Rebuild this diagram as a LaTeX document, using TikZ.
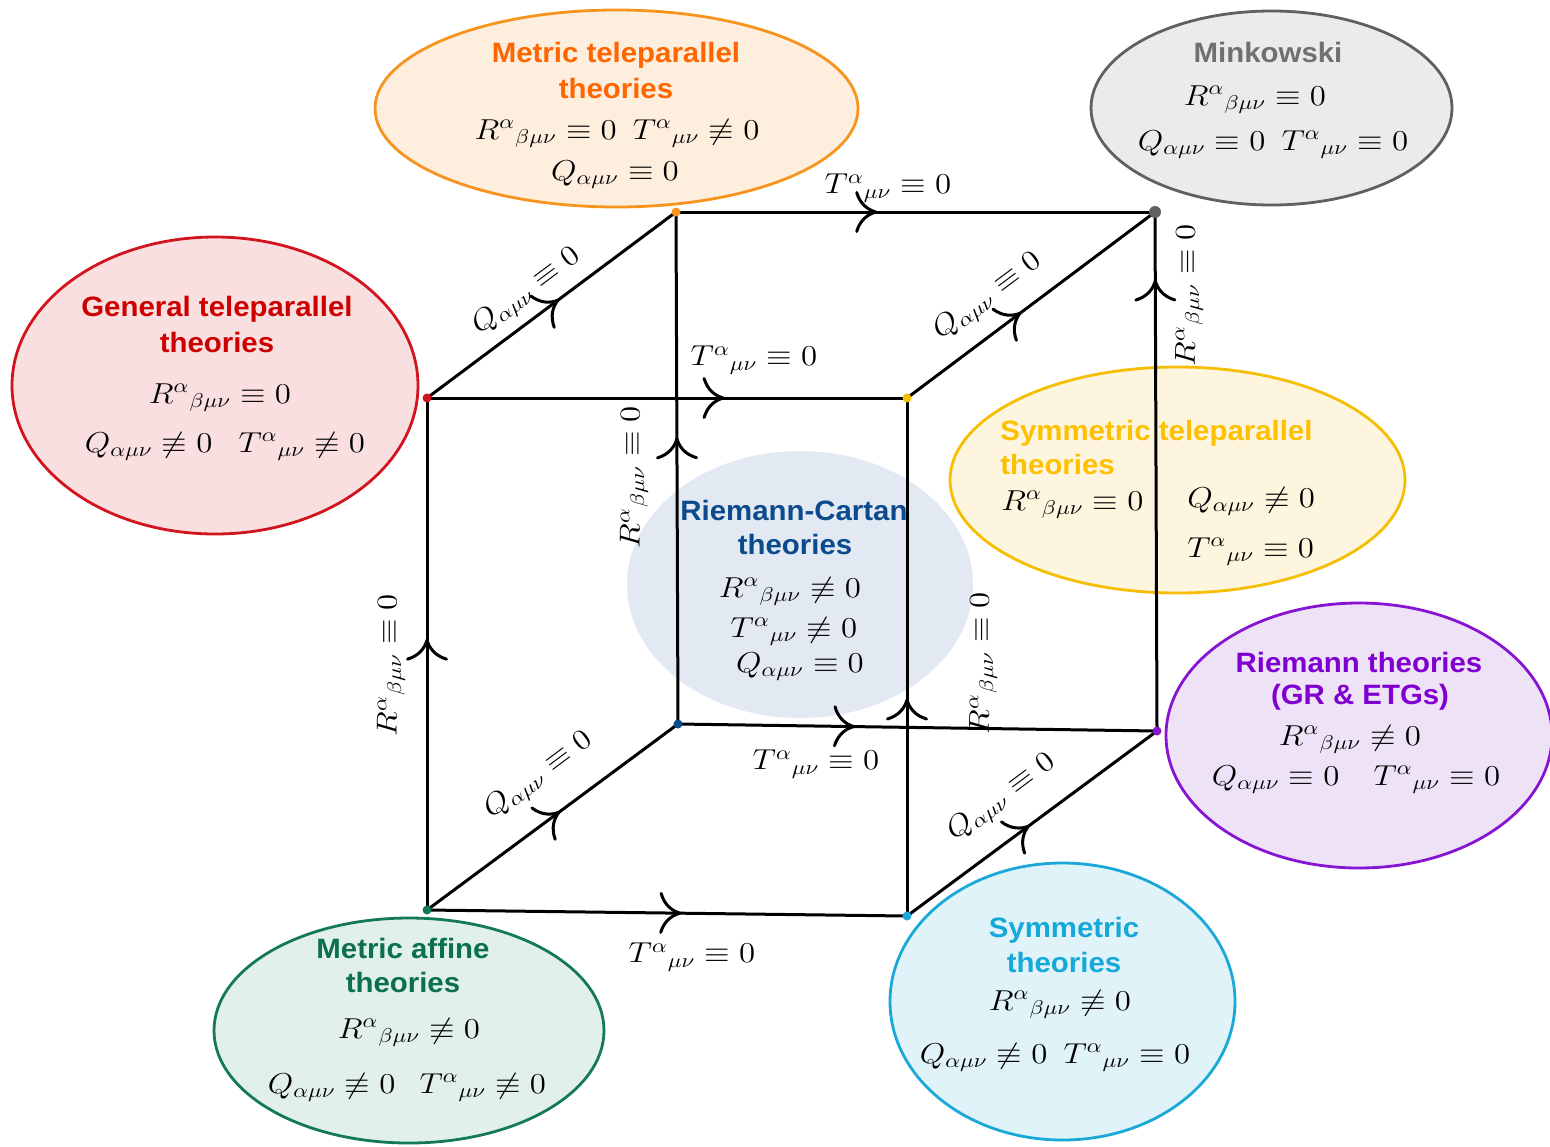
\documentclass[tikz,border=0pt]{standalone}
\usepackage{fontspec}
\newfontfamily\tf[FakeStretch=1.05]{Liberation Sans}
\usetikzlibrary{arrows.meta,decorations.markings,shapes.geometric}
\definecolor{orT}{RGB}{255,102,0}\definecolor{orS}{RGB}{247,148,29}\definecolor{orF}{RGB}{253,238,222}
\definecolor{grT}{RGB}{112,112,112}\definecolor{grS}{RGB}{96,96,96}\definecolor{grF}{RGB}{235,235,235}
\definecolor{reT}{RGB}{204,0,0}\definecolor{reS}{RGB}{210,20,30}\definecolor{reF}{RGB}{249,223,223}
\definecolor{yeT}{RGB}{255,192,0}\definecolor{yeS}{RGB}{245,190,0}\definecolor{yeF}{RGB}{254,245,222}
\definecolor{blT}{RGB}{11,74,140}\definecolor{blF}{RGB}{226,233,242}
\definecolor{puT}{RGB}{128,0,210}\definecolor{puS}{RGB}{135,20,210}\definecolor{puF}{RGB}{238,226,246}
\definecolor{cyT}{RGB}{22,168,216}\definecolor{cyS}{RGB}{26,168,216}\definecolor{cyF}{RGB}{224,243,249}
\definecolor{gnT}{RGB}{10,112,80}\definecolor{gnS}{RGB}{20,120,90}\definecolor{gnF}{RGB}{226,240,236}
\newcommand\m[1]{\scalebox{1.14}[1]{$#1$}}
\newcommand\Rz{R^{\alpha}{}_{\beta\mu\nu}}
\newcommand\Tz{T^{\alpha}{}_{\mu\nu}}
\newcommand\Qz{Q_{\alpha\mu\nu}}
\begin{document}
\begin{tikzpicture}[x=0.5pt,y=-0.5pt,
  ell/.style={ellipse, draw, line width=1.4pt, inner sep=0pt},
  edge/.style={line width=1.5pt, black},
  midarr/.style={postaction={decorate},decoration={markings,mark=at position #1 with {\arrow{Computer Modern Rightarrow[length=11pt,width=21pt,line width=1.5pt]}}}},
  ttl/.style={font={\tf\bfseries\fontsize{14}{16}\selectfont}, anchor=base, inner sep=0pt},
  mth/.style={font={\fontsize{14.4}{17}\selectfont}, anchor=base, inner sep=0pt},
  lbl/.style={font={\fontsize{14.4}{17}\selectfont}, inner sep=0pt},
  vdot/.style={circle, inner sep=0pt, minimum size=4.5pt}
]
\useasboundingbox[fill=white] (0,0) rectangle (1550,1146);
% ellipses
\node[ell, draw=orS, fill=orF, minimum width=241.5pt, minimum height=98.5pt] (eMT) at (616.5,108.5) {};
\node[ell, draw=grS, fill=grF, minimum width=180.5pt, minimum height=97pt] (eMK) at (1271.5,108) {};
\node[ell, draw=reS, fill=reF, minimum width=203pt, minimum height=148.5pt] (eGT) at (215,385.5) {};
\node[ell, draw=yeS, fill=yeF, minimum width=227.5pt, minimum height=113pt] (eST) at (1177.5,480) {};
\node[ellipse, draw=none, fill=blF, inner sep=0pt, minimum width=173pt, minimum height=133.5pt] (eRC) at (800,584.5) {};
\node[ell, draw=puS, fill=puF, minimum width=193pt, minimum height=132.5pt] (eRM) at (1359,735.5) {};
\node[ell, draw=cyS, fill=cyF, minimum width=172.5pt, minimum height=138.5pt] (eSY) at (1062.5,1001.5) {};
\node[ell, draw=gnS, fill=gnF, minimum width=195pt, minimum height=112.5pt] (eMA) at (409,1030.5) {};
% cube vertices
\coordinate (A) at (427,398);
\coordinate (B) at (907,398);
\coordinate (C) at (676,212);
\coordinate (D) at (1155,212);
\coordinate (E) at (427,910);
\coordinate (F) at (907,916);
\coordinate (G) at (678,724);
\coordinate (H) at (1157,731);
% edges
\draw[edge, midarr=0.53] (E) -- (F);
\draw[edge, midarr=0.53] (E) -- (A);
\draw[edge, midarr=0.53] (E) -- (G);
\draw[edge, midarr=0.37] (G) -- (H);
\draw[edge, midarr=0.56] (G) -- (C);
\draw[edge, midarr=0.62] (A) -- (B);
\draw[edge, midarr=0.53] (A) -- (C);
\draw[edge, midarr=0.42] (C) -- (D);
\draw[edge, midarr=0.42] (F) -- (B);
\draw[edge, midarr=0.49] (F) -- (H);
\draw[edge, midarr=0.87] (H) -- (D);
\draw[edge, midarr=0.46] (B) -- (D);
% dots
\node[vdot, fill=reS] (dA) at (A) {};
\node[vdot, fill=yeS] (dB) at (B) {};
\node[vdot, fill=orS] (dC) at (C) {};
\node[vdot, fill=grS, minimum size=6pt] (dD) at (D) {};
\node[vdot, fill=gnS] (dE) at (E) {};
\node[vdot, fill=cyS] (dF) at (F) {};
\node[vdot, fill=blT] (dG) at (G) {};
\node[vdot, fill=puS] (dH) at (H) {};
% edge labels
\node[lbl] (tCD) at (888,188) {\m{\Tz\equiv 0}};
\node[lbl] (tAB) at (754,360) {\m{\Tz\equiv 0}};
\node[lbl] (tGH) at (816,764) {\m{\Tz\equiv 0}};
\node[lbl] (tEF) at (692,957) {\m{\Tz\equiv 0}};
\node[lbl, rotate=90] (rEA) at (391,665) {\m{\Rz\equiv 0}};
\node[lbl, rotate=90] (rGC) at (634,477) {\m{\Rz\equiv 0}};
\node[lbl, rotate=90] (rFB) at (983,663) {\m{\Rz\equiv 0}};
\node[lbl, rotate=90] (rHD) at (1189,295) {\m{\Rz\equiv 0}};
\node[lbl, rotate=36.8] (qAC) at (527,292) {\m{\Qz\equiv 0}};
\node[lbl, rotate=36.8] (qBD) at (988,297) {\m{\Qz\equiv 0}};
\node[lbl, rotate=36.8] (qEG) at (539,776) {\m{\Qz\equiv 0}};
\node[lbl, rotate=36.8] (qFH) at (1002,798) {\m{\Qz\equiv 0}};
% Metric teleparallel
\node[ttl, text=orT] (mtA) at (616,62) {Metric teleparallel};
\node[ttl, text=orT] (mtB) at (616,98) {theories};
\node[mth] (mtC) at (617,139) {\m{\Rz\equiv 0}\hspace{8pt}\m{\Tz\not\equiv 0}};
\node[mth] (mtD) at (615,180) {\m{\Qz\equiv 0}};
% Minkowski
\node[ttl, text=grT] (mkA) at (1268,62) {Minkowski};
\node[mth] (mkB) at (1255,105) {\m{\Rz\equiv 0}};
\node[mth] (mkC) at (1273,150) {\m{\Qz\equiv 0}\hspace{8pt}\m{\Tz\equiv 0}};
% General teleparallel
\node[ttl, text=reT] (gtA) at (217,316) {General teleparallel};
\node[ttl, text=reT] (gtB) at (217,352) {theories};
\node[mth] (gtC) at (220,403) {\m{\Rz\equiv 0}};
\node[mth] (gtD) at (225,452) {\m{\Qz\not\equiv 0}\hspace{13pt}\m{\Tz\not\equiv 0}};
% Symmetric teleparallel
\node[ttl, text=yeT, anchor=base west] (stA) at (1000,440) {Symmetric teleparallel};
\node[ttl, text=yeT, anchor=base west] (stB) at (1000,474) {theories};
\node[mth, anchor=base west] (stC) at (1001,510) {\m{\Rz\equiv 0}};
\node[mth, anchor=base west] (stD) at (1187,507) {\m{\Qz\not\equiv 0}};
\node[mth, anchor=base west] (stE) at (1187,557) {\m{\Tz\equiv 0}};
% Riemann-Cartan
\node[ttl, text=blT] (rcA) at (794,520) {Riemann-Cartan};
\node[ttl, text=blT] (rcB) at (795,554) {theories};
\node[mth] (rcC) at (790,597) {\m{\Rz\not\equiv 0}};
\node[mth] (rcD) at (794,637) {\m{\Tz\not\equiv 0}};
\node[mth] (rcE) at (800,672) {\m{\Qz\equiv 0}};
% Riemann
\node[ttl, text=puT] (rmA) at (1359,672) {Riemann theories};
\node[ttl, text=puT] (rmB) at (1360,704) {(GR \& ETGs)};
\node[mth] (rmC) at (1350,745) {\m{\Rz\not\equiv 0}};
\node[mth] (rmD) at (1356,785) {\m{\Qz\equiv 0}\hspace{17pt}\m{\Tz\equiv 0}};
% Symmetric
\node[ttl, text=cyT] (syA) at (1064,937) {Symmetric};
\node[ttl, text=cyT] (syB) at (1064,972) {theories};
\node[mth] (syC) at (1060,1010) {\m{\Rz\not\equiv 0}};
\node[mth] (syD) at (1055,1063) {\m{\Qz\not\equiv 0}\hspace{8pt}\m{\Tz\equiv 0}};
% Metric affine
\node[ttl, text=gnT] (maA) at (403,958) {Metric affine};
\node[ttl, text=gnT] (maB) at (403,992) {theories};
\node[mth] (maC) at (409,1038) {\m{\Rz\not\equiv 0}};
\node[mth] (maD) at (407,1093) {\m{\Qz\not\equiv 0}\hspace{12pt}\m{\Tz\not\equiv 0}};
\end{tikzpicture}
\end{document}
